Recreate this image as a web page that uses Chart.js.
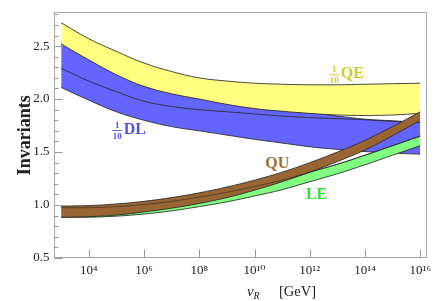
<!DOCTYPE html>
<html><head><meta charset="utf-8">
<script src="https://cdn.jsdelivr.net/npm/chart.js@4"></script>
<style>html,body{margin:0;padding:0;background:#fff}#wrap{width:436px;height:301px}</style>
</head><body><div id="wrap"><canvas id="c" width="436" height="301"></canvas></div>
<script>
// log10(v_R / GeV)
const logVR     = [3, 4, 5, 6, 7, 8, 9, 10, 11, 12, 13, 14, 15, 16];
const qeUpper   = [2.72, 2.57, 2.45, 2.34, 2.26, 2.20, 2.17, 2.15, 2.14, 2.135, 2.135, 2.14, 2.145, 2.15];
const qeLower   = [2.52, 2.37, 2.23, 2.12, 2.05, 2.00, 1.95, 1.91, 1.885, 1.865, 1.85, 1.845, 1.85, 1.865];
const dlUpper   = [2.53, 2.38, 2.24, 2.13, 2.06, 2.01, 1.96, 1.92, 1.89, 1.87, 1.84, 1.81, 1.795, 1.78];
const dlCentral = [2.29, 2.17, 2.07, 1.98, 1.93, 1.90, 1.88, 1.86, 1.84, 1.825, 1.815, 1.805, 1.79, 1.78];
const dlLower   = [2.11, 1.99, 1.88, 1.80, 1.74, 1.70, 1.66, 1.62, 1.585, 1.55, 1.525, 1.505, 1.49, 1.48];
const quUpper   = [0.99, 0.995, 1.01, 1.035, 1.07, 1.115, 1.17, 1.235, 1.31, 1.40, 1.50, 1.61, 1.74, 1.88];
const quLower   = [0.885, 0.89, 0.905, 0.935, 0.97, 1.015, 1.07, 1.14, 1.22, 1.31, 1.41, 1.52, 1.655, 1.80];
const leUpper   = [0.975, 0.975, 0.985, 1.005, 1.035, 1.075, 1.12, 1.175, 1.235, 1.31, 1.385, 1.47, 1.56, 1.65];
const leLower   = [0.885, 0.885, 0.895, 0.915, 0.945, 0.985, 1.03, 1.085, 1.145, 1.22, 1.295, 1.38, 1.47, 1.56];
const xTickExps = [4, 6, 8, 10, 12, 14, 16];
const yTicks    = [0.5, 1.0, 1.5, 2.0, 2.5];

const SERIF = "'Liberation Serif','DejaVu Serif',serif";
const EDGE = 'rgba(40,40,40,0.85)';
const pts = arr => arr.map((v, i) => ({x: Math.pow(10, logVR[i]), y: v}));
const SUP = {'0':'\u2070','1':'\u00B9','2':'\u00B2','3':'\u00B3','4':'\u2074','5':'\u2075','6':'\u2076','7':'\u2077','8':'\u2078','9':'\u2079'};

function ds(label, arr, opts) {
  return Object.assign({label, data: pts(arr), borderColor: EDGE, borderWidth: 1, pointRadius: 0,
    tension: 0.4, fill: false}, opts);
}
const datasets = [
  ds('DL upper', dlUpper, {fill: '+1', backgroundColor: 'rgb(100,100,255)'}),
  ds('DL lower', dlLower, {}),
  ds('DL central', dlCentral, {}),
  ds('QE upper', qeUpper, {fill: '+1', backgroundColor: 'rgb(255,255,128)'}),
  ds('QE lower', qeLower, {}),
  ds('LE upper', leUpper, {fill: '+1', backgroundColor: 'rgb(128,255,128)'}),
  ds('LE lower', leLower, {}),
  ds('QU upper', quUpper, {fill: '+1', backgroundColor: 'rgb(153,102,51)'}),
  ds('QU lower', quLower, {}),
  ds('LE upper edge', leUpper, {borderColor: 'rgba(40,40,40,0.6)'})
];
const N = datasets.length;
datasets.forEach((d, i) => d.order = N - i);

const bandLabels = [
  {num: '1', den: '10', text: 'QE', L: 12.71, v: 2.197, color: 'rgb(205,205,35)'},
  {num: '1', den: '10', text: 'DL', L: 4.85, v: 1.67, color: 'rgb(80,80,245)'},
  {text: 'QU', L: 10.39, v: 1.351, color: 'rgb(160,105,50)'},
  {text: 'LE', L: 11.86, v: 1.059, color: 'rgb(40,235,40)'}
];

const decor = {
  id: 'decor',
  afterDraw(chart) {
    const {ctx, chartArea: a, scales: {x, y}} = chart;
    ctx.save();
    // frame
    ctx.strokeStyle = '#a8a8a8'; ctx.lineWidth = 1;
    ctx.strokeRect(Math.round(a.left) + 0.5, Math.round(a.top) + 0.5,
      Math.round(a.right - a.left) - 1, Math.round(a.bottom - a.top) - 1);
    // inward ticks
    ctx.strokeStyle = '#999';
    ctx.beginPath();
    const lx = Math.round(a.left) + 0.5, by = Math.round(a.bottom) - 0.5;
    for (let k = 5; k <= 28; k++) {
      const v = k / 10, py = Math.round(y.getPixelForValue(v)) + 0.5;
      const len = (k % 5 === 0) ? 8 : 4;
      ctx.moveTo(lx, py); ctx.lineTo(lx + len, py);
    }
    xTickExps.forEach(e => {
      const px = Math.round(x.getPixelForValue(Math.pow(10, e))) + 0.5;
      ctx.moveTo(px, by); ctx.lineTo(px, by - 8);
    });
    ctx.stroke();
    // band labels
    ctx.textBaseline = 'alphabetic';
    bandLabels.forEach(b => {
      let px = x.getPixelForValue(Math.pow(10, b.L));
      const py = y.getPixelForValue(b.v);
      ctx.fillStyle = b.color; ctx.strokeStyle = b.color;
      if (b.num) {
        ctx.font = 'bold 9px ' + SERIF; ctx.textAlign = 'center';
        ctx.fillText(b.num, px + 5, py - 6);
        ctx.fillText(b.den, px + 5, py + 4.5);
        ctx.lineWidth = 0.9;
        ctx.beginPath(); ctx.moveTo(px, py - 3.5); ctx.lineTo(px + 10, py - 3.5); ctx.stroke();
        px += 11.5;
      }
      ctx.font = 'bold 16px ' + SERIF; ctx.textAlign = 'left';
      ctx.fillText(b.text, px, py);
    });
    // x-axis title: v_R [GeV]
    ctx.fillStyle = '#222';
    const tx = a.left + (a.right - a.left) * 0.5175, ty = 295.5;
    ctx.font = 'italic 15px ' + SERIF; ctx.textAlign = 'left';
    ctx.fillText('v', tx, ty);
    const vw = ctx.measureText('v').width;
    ctx.font = 'italic 10px ' + SERIF;
    ctx.fillText('R', tx + vw, ty + 3);
    ctx.font = '14.5px ' + SERIF;
    ctx.fillText('[GeV]', tx + 32, ty);
    ctx.restore();
  }
};

new Chart(document.getElementById('c'), {
  type: 'line',
  data: {datasets},
  options: {
    responsive: false, animation: false, events: [],
    layout: {padding: {left: 0, top: 11, right: 4, bottom: 0}},
    plugins: {legend: {display: false}, tooltip: {enabled: false}},
    scales: {
      x: {
        type: 'logarithmic', min: Math.pow(10, 2.74), max: Math.pow(10, 16.24),
        grid: {display: false, drawTicks: false}, border: {display: false},
        afterBuildTicks: s => { s.ticks = xTickExps.map(e => ({value: Math.pow(10, e)})); },
        afterFit: s => { s.height = 43; },
        ticks: {
          autoSkip: false, maxRotation: 0, padding: 5, color: '#222',
          font: {family: SERIF, size: 13},
          callback: v => '10' + String(Math.round(Math.log10(v))).split('').map(c => SUP[c]).join('')
        }
      },
      y: {
        type: 'linear', min: 0.5, max: 2.819,
        grid: {display: false, drawTicks: false}, border: {display: false},
        afterBuildTicks: s => { s.ticks = yTicks.map(v => ({value: v})); },
        afterFit: s => { s.width = 54; },
        ticks: {padding: 4.5, color: '#222', font: {family: SERIF, size: 13},
          callback: v => Number(v).toFixed(1)},
        title: {display: true, text: 'Invariants', color: '#222',
          font: {family: SERIF, size: 18, weight: 'bold'}, padding: {top: 15, bottom: 0}}
      }
    }
  },
  plugins: [decor]
});
</script></body></html>
